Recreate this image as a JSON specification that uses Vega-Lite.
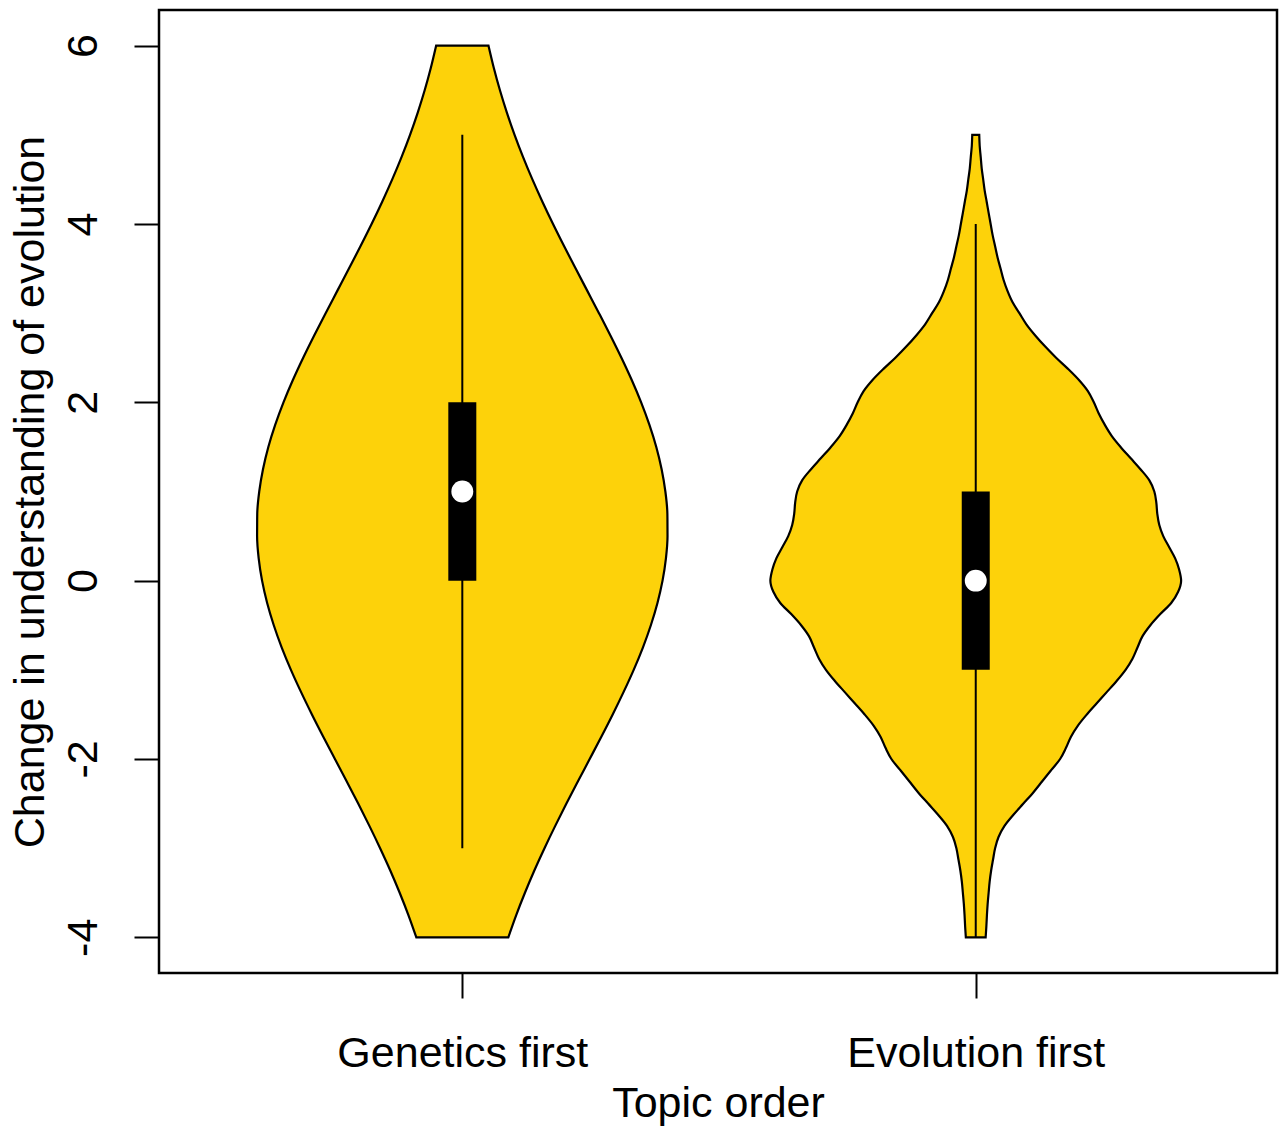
{
  "$schema": "https://vega.github.io/schema/vega-lite/v6.json",
  "width": 1118,
  "height": 963,
  "autosize": {"type": "none"},
  "padding": {"left": 159, "top": 10, "right": 4, "bottom": 154},
  "background": "white",
  "config": {
    "view": {"stroke": "black", "strokeWidth": 2.5},
    "font": "Liberation Sans",
    "axis": {
      "grid": false,
      "domain": false,
      "tickColor": "black",
      "tickWidth": 2,
      "tickSize": 25,
      "labelColor": "black",
      "labelFont": "Liberation Sans",
      "labelFontSize": 43,
      "labelLimit": 0,
      "titleFont": "Liberation Sans",
      "titleFontSize": 43,
      "titleFontWeight": "normal",
      "titleColor": "black"
    }
  },
  "datasets": {
    "violin": [
      {"g": "Genetics first", "y": -4, "lo": 0.9104, "hi": 1.0896},
      {"g": "Genetics first", "y": -3.75, "lo": 0.895, "hi": 1.105},
      {"g": "Genetics first", "y": -3.5, "lo": 0.878, "hi": 1.122},
      {"g": "Genetics first", "y": -3.25, "lo": 0.8597, "hi": 1.1403},
      {"g": "Genetics first", "y": -3, "lo": 0.8399, "hi": 1.1601},
      {"g": "Genetics first", "y": -2.75, "lo": 0.819, "hi": 1.181},
      {"g": "Genetics first", "y": -2.5, "lo": 0.7972, "hi": 1.2028},
      {"g": "Genetics first", "y": -2.25, "lo": 0.7747, "hi": 1.2253},
      {"g": "Genetics first", "y": -2, "lo": 0.7519, "hi": 1.2481},
      {"g": "Genetics first", "y": -1.75, "lo": 0.7292, "hi": 1.2708},
      {"g": "Genetics first", "y": -1.5, "lo": 0.7071, "hi": 1.2929},
      {"g": "Genetics first", "y": -1.25, "lo": 0.686, "hi": 1.314},
      {"g": "Genetics first", "y": -1, "lo": 0.6662, "hi": 1.3338},
      {"g": "Genetics first", "y": -0.75, "lo": 0.6483, "hi": 1.3517},
      {"g": "Genetics first", "y": -0.5, "lo": 0.6328, "hi": 1.3672},
      {"g": "Genetics first", "y": -0.25, "lo": 0.6199, "hi": 1.3801},
      {"g": "Genetics first", "y": 0, "lo": 0.61, "hi": 1.39},
      {"g": "Genetics first", "y": 0.25, "lo": 0.6034, "hi": 1.3966},
      {"g": "Genetics first", "y": 0.5, "lo": 0.6003, "hi": 1.3997},
      {"g": "Genetics first", "y": 0.75, "lo": 0.6006, "hi": 1.3994},
      {"g": "Genetics first", "y": 1, "lo": 0.6045, "hi": 1.3955},
      {"g": "Genetics first", "y": 1.25, "lo": 0.6118, "hi": 1.3882},
      {"g": "Genetics first", "y": 1.5, "lo": 0.6222, "hi": 1.3778},
      {"g": "Genetics first", "y": 1.75, "lo": 0.6357, "hi": 1.3643},
      {"g": "Genetics first", "y": 2, "lo": 0.6517, "hi": 1.3483},
      {"g": "Genetics first", "y": 2.25, "lo": 0.67, "hi": 1.33},
      {"g": "Genetics first", "y": 2.5, "lo": 0.6901, "hi": 1.3099},
      {"g": "Genetics first", "y": 2.75, "lo": 0.7115, "hi": 1.2885},
      {"g": "Genetics first", "y": 3, "lo": 0.7338, "hi": 1.2662},
      {"g": "Genetics first", "y": 3.25, "lo": 0.7565, "hi": 1.2435},
      {"g": "Genetics first", "y": 3.5, "lo": 0.7792, "hi": 1.2208},
      {"g": "Genetics first", "y": 3.75, "lo": 0.8016, "hi": 1.1984},
      {"g": "Genetics first", "y": 4, "lo": 0.8233, "hi": 1.1767},
      {"g": "Genetics first", "y": 4.25, "lo": 0.844, "hi": 1.156},
      {"g": "Genetics first", "y": 4.5, "lo": 0.8635, "hi": 1.1365},
      {"g": "Genetics first", "y": 4.75, "lo": 0.8816, "hi": 1.1184},
      {"g": "Genetics first", "y": 5, "lo": 0.8982, "hi": 1.1018},
      {"g": "Genetics first", "y": 5.25, "lo": 0.9132, "hi": 1.0868},
      {"g": "Genetics first", "y": 5.5, "lo": 0.9267, "hi": 1.0733},
      {"g": "Genetics first", "y": 5.75, "lo": 0.9386, "hi": 1.0614},
      {"g": "Genetics first", "y": 6, "lo": 0.949, "hi": 1.051},
      {"g": "Evolution first", "y": -4, "lo": 1.9807, "hi": 2.0193},
      {"g": "Evolution first", "y": -3.875, "lo": 1.9793, "hi": 2.0207},
      {"g": "Evolution first", "y": -3.75, "lo": 1.9782, "hi": 2.0218},
      {"g": "Evolution first", "y": -3.625, "lo": 1.9768, "hi": 2.0232},
      {"g": "Evolution first", "y": -3.5, "lo": 1.9749, "hi": 2.0251},
      {"g": "Evolution first", "y": -3.375, "lo": 1.9729, "hi": 2.0271},
      {"g": "Evolution first", "y": -3.25, "lo": 1.97, "hi": 2.03},
      {"g": "Evolution first", "y": -3.125, "lo": 1.9662, "hi": 2.0338},
      {"g": "Evolution first", "y": -3, "lo": 1.9623, "hi": 2.0377},
      {"g": "Evolution first", "y": -2.875, "lo": 1.9556, "hi": 2.0444},
      {"g": "Evolution first", "y": -2.75, "lo": 1.944, "hi": 2.056},
      {"g": "Evolution first", "y": -2.625, "lo": 1.9266, "hi": 2.0734},
      {"g": "Evolution first", "y": -2.5, "lo": 1.9072, "hi": 2.0928},
      {"g": "Evolution first", "y": -2.375, "lo": 1.8879, "hi": 2.1121},
      {"g": "Evolution first", "y": -2.25, "lo": 1.8705, "hi": 2.1295},
      {"g": "Evolution first", "y": -2.125, "lo": 1.8531, "hi": 2.1469},
      {"g": "Evolution first", "y": -2, "lo": 1.8357, "hi": 2.1643},
      {"g": "Evolution first", "y": -1.875, "lo": 1.8242, "hi": 2.1758},
      {"g": "Evolution first", "y": -1.75, "lo": 1.8145, "hi": 2.1855},
      {"g": "Evolution first", "y": -1.625, "lo": 1.801, "hi": 2.199},
      {"g": "Evolution first", "y": -1.5, "lo": 1.7836, "hi": 2.2164},
      {"g": "Evolution first", "y": -1.375, "lo": 1.7643, "hi": 2.2357},
      {"g": "Evolution first", "y": -1.25, "lo": 1.7449, "hi": 2.2551},
      {"g": "Evolution first", "y": -1.125, "lo": 1.7256, "hi": 2.2744},
      {"g": "Evolution first", "y": -1, "lo": 1.7082, "hi": 2.2918},
      {"g": "Evolution first", "y": -0.875, "lo": 1.6947, "hi": 2.3053},
      {"g": "Evolution first", "y": -0.75, "lo": 1.685, "hi": 2.315},
      {"g": "Evolution first", "y": -0.625, "lo": 1.6754, "hi": 2.3246},
      {"g": "Evolution first", "y": -0.5, "lo": 1.6599, "hi": 2.3401},
      {"g": "Evolution first", "y": -0.375, "lo": 1.6406, "hi": 2.3594},
      {"g": "Evolution first", "y": -0.25, "lo": 1.6193, "hi": 2.3807},
      {"g": "Evolution first", "y": -0.125, "lo": 1.6058, "hi": 2.3942},
      {"g": "Evolution first", "y": 0, "lo": 1.6, "hi": 2.4},
      {"g": "Evolution first", "y": 0.125, "lo": 1.6039, "hi": 2.3961},
      {"g": "Evolution first", "y": 0.25, "lo": 1.6116, "hi": 2.3884},
      {"g": "Evolution first", "y": 0.375, "lo": 1.6232, "hi": 2.3768},
      {"g": "Evolution first", "y": 0.5, "lo": 1.6348, "hi": 2.3652},
      {"g": "Evolution first", "y": 0.625, "lo": 1.6425, "hi": 2.3575},
      {"g": "Evolution first", "y": 0.75, "lo": 1.6464, "hi": 2.3536},
      {"g": "Evolution first", "y": 0.875, "lo": 1.6483, "hi": 2.3517},
      {"g": "Evolution first", "y": 1, "lo": 1.6522, "hi": 2.3478},
      {"g": "Evolution first", "y": 1.125, "lo": 1.6618, "hi": 2.3382},
      {"g": "Evolution first", "y": 1.25, "lo": 1.6792, "hi": 2.3208},
      {"g": "Evolution first", "y": 1.375, "lo": 1.6986, "hi": 2.3014},
      {"g": "Evolution first", "y": 1.5, "lo": 1.7179, "hi": 2.2821},
      {"g": "Evolution first", "y": 1.625, "lo": 1.7353, "hi": 2.2647},
      {"g": "Evolution first", "y": 1.75, "lo": 1.7488, "hi": 2.2512},
      {"g": "Evolution first", "y": 1.875, "lo": 1.7604, "hi": 2.2396},
      {"g": "Evolution first", "y": 2, "lo": 1.77, "hi": 2.23},
      {"g": "Evolution first", "y": 2.125, "lo": 1.7816, "hi": 2.2184},
      {"g": "Evolution first", "y": 2.25, "lo": 1.799, "hi": 2.201},
      {"g": "Evolution first", "y": 2.375, "lo": 1.8203, "hi": 2.1797},
      {"g": "Evolution first", "y": 2.5, "lo": 1.8435, "hi": 2.1565},
      {"g": "Evolution first", "y": 2.625, "lo": 1.8647, "hi": 2.1353},
      {"g": "Evolution first", "y": 2.75, "lo": 1.8841, "hi": 2.1159},
      {"g": "Evolution first", "y": 2.875, "lo": 1.9014, "hi": 2.0986},
      {"g": "Evolution first", "y": 3, "lo": 1.915, "hi": 2.085},
      {"g": "Evolution first", "y": 3.125, "lo": 1.9285, "hi": 2.0715},
      {"g": "Evolution first", "y": 3.25, "lo": 1.9382, "hi": 2.0618},
      {"g": "Evolution first", "y": 3.375, "lo": 1.9459, "hi": 2.0541},
      {"g": "Evolution first", "y": 3.5, "lo": 1.9517, "hi": 2.0483},
      {"g": "Evolution first", "y": 3.625, "lo": 1.9575, "hi": 2.0425},
      {"g": "Evolution first", "y": 3.75, "lo": 1.9623, "hi": 2.0377},
      {"g": "Evolution first", "y": 3.875, "lo": 1.9671, "hi": 2.0329},
      {"g": "Evolution first", "y": 4, "lo": 1.971, "hi": 2.029},
      {"g": "Evolution first", "y": 4.125, "lo": 1.9749, "hi": 2.0251},
      {"g": "Evolution first", "y": 4.25, "lo": 1.9787, "hi": 2.0213},
      {"g": "Evolution first", "y": 4.375, "lo": 1.9826, "hi": 2.0174},
      {"g": "Evolution first", "y": 4.5, "lo": 1.9855, "hi": 2.0145},
      {"g": "Evolution first", "y": 4.625, "lo": 1.9884, "hi": 2.0116},
      {"g": "Evolution first", "y": 4.75, "lo": 1.9903, "hi": 2.0097},
      {"g": "Evolution first", "y": 4.875, "lo": 1.9923, "hi": 2.0077},
      {"g": "Evolution first", "y": 5, "lo": 1.9932, "hi": 2.0068}
    ],
    "stats": [
      {"g": "Genetics first", "pos": 1, "min": -3, "q1": 0, "med": 1, "q3": 2, "max": 5},
      {"g": "Evolution first", "pos": 2, "min": -4, "q1": -1, "med": 0, "q3": 1, "max": 4}
    ]
  },
  "layer": [
    {
      "data": {"name": "violin"},
      "mark": {"type": "area", "orient": "horizontal", "interpolate": "monotone", "fill": "#FDD20A", "fillOpacity": 1, "stroke": "black", "strokeWidth": 2.2},
      "encoding": {
        "y": {
          "field": "y", "type": "quantitative",
          "scale": {"domain": [-4.4, 6.4], "nice": false, "zero": false},
          "axis": {"values": [-4, -2, 0, 2, 4, 6], "labelExpr": "toString(datum.value)", "labelAngle": 270, "labelAlign": "center", "labelBaseline": "alphabetic", "labelPadding": 38, "titlePadding": 10},
          "title": "Change in understanding of evolution"
        },
        "x": {
          "field": "lo", "type": "quantitative",
          "scale": {"domain": [0.419, 2.577], "nice": false, "zero": false},
          "axis": {"values": [1, 2], "labelExpr": "datum.value == 1 ? 'Genetics first' : 'Evolution first'", "labelPadding": 34, "titlePadding": 7},
          "title": "Topic order"
        },
        "x2": {"field": "hi"},
        "detail": {"field": "g"}
      }
    },
    {
      "data": {"name": "stats"},
      "mark": {"type": "rule", "stroke": "black", "strokeWidth": 2},
      "encoding": {
        "x": {"field": "pos", "type": "quantitative", "title": "Topic order"},
        "y": {"field": "min", "type": "quantitative", "title": "Change in understanding of evolution"},
        "y2": {"field": "max"}
      }
    },
    {
      "data": {"name": "stats"},
      "mark": {"type": "bar", "fill": "black", "size": 28},
      "encoding": {
        "x": {"field": "pos", "type": "quantitative", "title": "Topic order"},
        "y": {"field": "q1", "type": "quantitative", "title": "Change in understanding of evolution"},
        "y2": {"field": "q3"}
      }
    },
    {
      "data": {"name": "stats"},
      "mark": {"type": "point", "shape": "circle", "filled": true, "fill": "white", "opacity": 1, "size": 480, "strokeWidth": 0},
      "encoding": {
        "x": {"field": "pos", "type": "quantitative", "title": "Topic order"},
        "y": {"field": "med", "type": "quantitative", "title": "Change in understanding of evolution"}
      }
    }
  ]
}
